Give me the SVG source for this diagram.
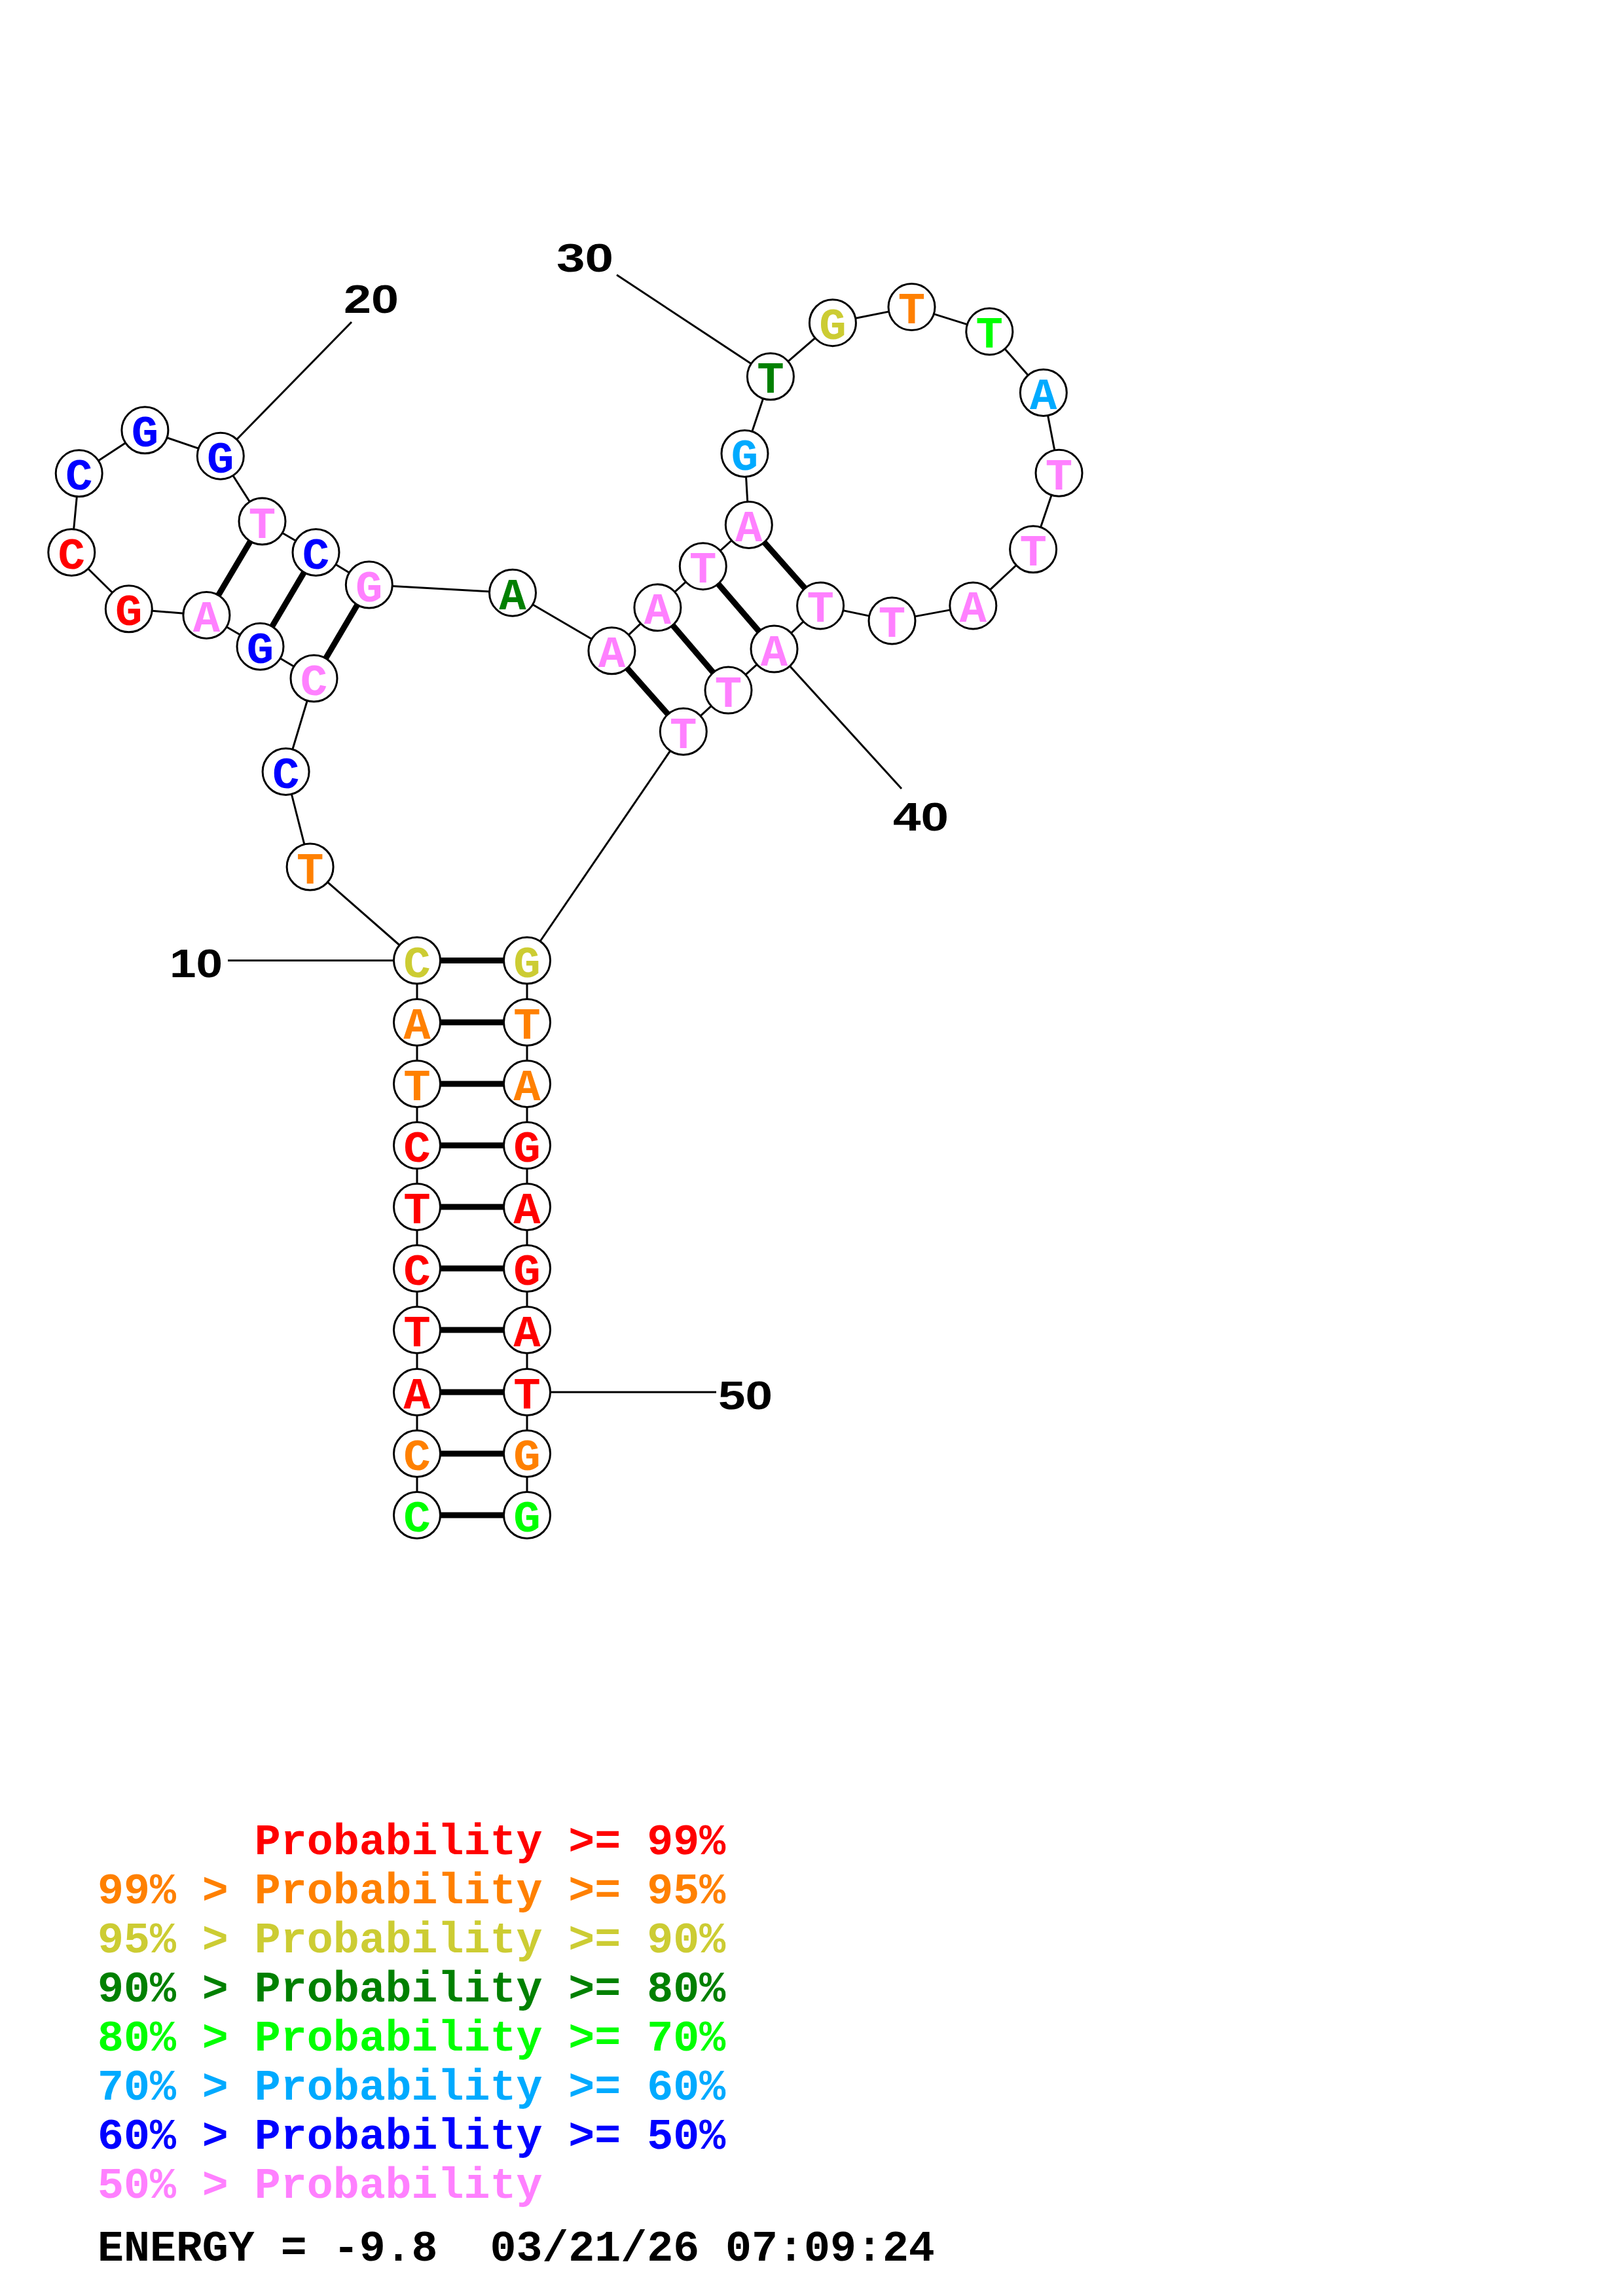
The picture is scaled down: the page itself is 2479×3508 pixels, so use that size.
<svg xmlns="http://www.w3.org/2000/svg" width="2479" height="3508" viewBox="0 0 2479 3508">
<style>
.bb{stroke:#000;stroke-width:3;fill:none}
.pr{stroke:#000;stroke-width:9;fill:none}
.ld{stroke:#000;stroke-width:3;fill:none}
.nd circle{fill:#fff;stroke:#000;stroke-width:3}
.nd text{font-family:"Liberation Mono","Courier New",monospace;font-weight:bold;font-size:69px;text-anchor:middle}
.num{font-family:"Liberation Sans",Arial,sans-serif;font-weight:bold;font-size:62px;fill:#000}
.lg{font-family:"Liberation Mono","Courier New",monospace;font-weight:bold;font-size:66.6px;white-space:pre}
.r{fill:#ff0000}.o{fill:#ff8000}.y{fill:#cccc33}.dg{fill:#008000}.g{fill:#00ff00}.lb{fill:#00aaff}.b{fill:#0000ff}.p{fill:#ff80ff}.k{fill:#000}
</style>
<rect x="0" y="0" width="2479" height="3508" fill="#fff"/>
<g id="connectors">
<g id="backbone">
<line class="bb" x1="637" y1="2315" x2="637" y2="1467.5"/>
<line class="bb" x1="637" y1="1467.5" x2="473.6" y2="1324.5"/>
<line class="bb" x1="473.6" y1="1324.5" x2="436.6" y2="1179"/>
<line class="bb" x1="436.6" y1="1179" x2="479.5" y2="1036.5"/>
<line class="bb" x1="479.5" y1="1036.5" x2="397.5" y2="987.7"/>
<line class="bb" x1="397.5" y1="987.7" x2="315.4" y2="940"/>
<line class="bb" x1="315.4" y1="940" x2="196.8" y2="930.3"/>
<line class="bb" x1="196.8" y1="930.3" x2="109.3" y2="844"/>
<line class="bb" x1="109.3" y1="844" x2="120.7" y2="723.3"/>
<line class="bb" x1="120.7" y1="723.3" x2="221.4" y2="657.3"/>
<line class="bb" x1="221.4" y1="657.3" x2="336.8" y2="696.7"/>
<line class="bb" x1="336.8" y1="696.7" x2="400.5" y2="796.5"/>
<line class="bb" x1="400.5" y1="796.5" x2="482.5" y2="844"/>
<line class="bb" x1="482.5" y1="844" x2="563.8" y2="893.5"/>
<line class="bb" x1="563.8" y1="893.5" x2="783" y2="905.7"/>
<line class="bb" x1="783" y1="905.7" x2="934.4" y2="994.3"/>
<line class="bb" x1="934.4" y1="994.3" x2="1004.4" y2="928.3"/>
<line class="bb" x1="1004.4" y1="928.3" x2="1073.8" y2="865.2"/>
<line class="bb" x1="1073.8" y1="865.2" x2="1143.8" y2="802"/>
<line class="bb" x1="1143.8" y1="802" x2="1137.5" y2="693"/>
<line class="bb" x1="1137.5" y1="693" x2="1176.9" y2="575.3"/>
<line class="bb" x1="1176.9" y1="575.3" x2="1271.9" y2="493.2"/>
<line class="bb" x1="1271.9" y1="493.2" x2="1392.5" y2="469.1"/>
<line class="bb" x1="1392.5" y1="469.1" x2="1511.3" y2="506.4"/>
<line class="bb" x1="1511.3" y1="506.4" x2="1593.8" y2="600"/>
<line class="bb" x1="1593.8" y1="600" x2="1617.5" y2="722.8"/>
<line class="bb" x1="1617.5" y1="722.8" x2="1578.1" y2="839.3"/>
<line class="bb" x1="1578.1" y1="839.3" x2="1486.3" y2="925.4"/>
<line class="bb" x1="1486.3" y1="925.4" x2="1362.5" y2="948.4"/>
<line class="bb" x1="1362.5" y1="948.4" x2="1253.1" y2="925.4"/>
<line class="bb" x1="1253.1" y1="925.4" x2="1182.5" y2="991.5"/>
<line class="bb" x1="1182.5" y1="991.5" x2="1112.5" y2="1054.6"/>
<line class="bb" x1="1112.5" y1="1054.6" x2="1043.8" y2="1117.8"/>
<line class="bb" x1="1043.8" y1="1117.8" x2="805" y2="1467.5"/>
<line class="bb" x1="805" y1="1467.5" x2="805" y2="2315"/>
</g>
<g id="pairs">
<line class="pr" x1="637" y1="1467.5" x2="805" y2="1467.5"/>
<line class="pr" x1="637" y1="1562" x2="805" y2="1562"/>
<line class="pr" x1="637" y1="1656" x2="805" y2="1656"/>
<line class="pr" x1="637" y1="1750" x2="805" y2="1750"/>
<line class="pr" x1="637" y1="1844" x2="805" y2="1844"/>
<line class="pr" x1="637" y1="1938" x2="805" y2="1938"/>
<line class="pr" x1="637" y1="2032" x2="805" y2="2032"/>
<line class="pr" x1="637" y1="2127" x2="805" y2="2127"/>
<line class="pr" x1="637" y1="2221" x2="805" y2="2221"/>
<line class="pr" x1="637" y1="2315" x2="805" y2="2315"/>
<line class="pr" x1="479.5" y1="1036.5" x2="563.8" y2="893.5"/>
<line class="pr" x1="397.5" y1="987.7" x2="482.5" y2="844"/>
<line class="pr" x1="315.4" y1="940" x2="400.5" y2="796.5"/>
<line class="pr" x1="934.4" y1="994.3" x2="1043.8" y2="1117.8"/>
<line class="pr" x1="1004.4" y1="928.3" x2="1112.5" y2="1054.6"/>
<line class="pr" x1="1073.8" y1="865.2" x2="1182.5" y2="991.5"/>
<line class="pr" x1="1143.8" y1="802" x2="1253.1" y2="925.4"/>
</g>
<g id="leaders">
<line class="ld" x1="348" y1="1467.5" x2="637" y2="1467.5"/>
<line class="ld" x1="537" y1="492" x2="336.8" y2="696.7"/>
<line class="ld" x1="942" y1="420" x2="1176.9" y2="575.3"/>
<line class="ld" x1="1377" y1="1205" x2="1182.5" y2="991.5"/>
<line class="ld" x1="1094" y1="2127" x2="805" y2="2127"/>
</g>
</g>
<g id="nodes">
<g id="n1" class="nd"><circle cx="637" cy="2315" r="35.5"/><text x="637" y="2340" class="g">C</text></g>
<g id="n2" class="nd"><circle cx="637" cy="2221" r="35.5"/><text x="637" y="2246" class="o">C</text></g>
<g id="n3" class="nd"><circle cx="637" cy="2127" r="35.5"/><text x="637" y="2152" class="r">A</text></g>
<g id="n4" class="nd"><circle cx="637" cy="2032" r="35.5"/><text x="637" y="2057" class="r">T</text></g>
<g id="n5" class="nd"><circle cx="637" cy="1938" r="35.5"/><text x="637" y="1963" class="r">C</text></g>
<g id="n6" class="nd"><circle cx="637" cy="1844" r="35.5"/><text x="637" y="1869" class="r">T</text></g>
<g id="n7" class="nd"><circle cx="637" cy="1750" r="35.5"/><text x="637" y="1775" class="r">C</text></g>
<g id="n8" class="nd"><circle cx="637" cy="1656" r="35.5"/><text x="637" y="1681" class="o">T</text></g>
<g id="n9" class="nd"><circle cx="637" cy="1562" r="35.5"/><text x="637" y="1587" class="o">A</text></g>
<g id="n10" class="nd"><circle cx="637" cy="1467.5" r="35.5"/><text x="637" y="1492.5" class="y">C</text></g>
<g id="n11" class="nd"><circle cx="473.6" cy="1324.5" r="35.5"/><text x="473.6" y="1349.5" class="o">T</text></g>
<g id="n12" class="nd"><circle cx="436.6" cy="1179" r="35.5"/><text x="436.6" y="1204" class="b">C</text></g>
<g id="n13" class="nd"><circle cx="479.5" cy="1036.5" r="35.5"/><text x="479.5" y="1061.5" class="p">C</text></g>
<g id="n14" class="nd"><circle cx="397.5" cy="987.7" r="35.5"/><text x="397.5" y="1012.7" class="b">G</text></g>
<g id="n15" class="nd"><circle cx="315.4" cy="940" r="35.5"/><text x="315.4" y="965" class="p">A</text></g>
<g id="n16" class="nd"><circle cx="196.8" cy="930.3" r="35.5"/><text x="196.8" y="955.3" class="r">G</text></g>
<g id="n17" class="nd"><circle cx="109.3" cy="844" r="35.5"/><text x="109.3" y="869" class="r">C</text></g>
<g id="n18" class="nd"><circle cx="120.7" cy="723.3" r="35.5"/><text x="120.7" y="748.3" class="b">C</text></g>
<g id="n19" class="nd"><circle cx="221.4" cy="657.3" r="35.5"/><text x="221.4" y="682.3" class="b">G</text></g>
<g id="n20" class="nd"><circle cx="336.8" cy="696.7" r="35.5"/><text x="336.8" y="721.7" class="b">G</text></g>
<g id="n21" class="nd"><circle cx="400.5" cy="796.5" r="35.5"/><text x="400.5" y="821.5" class="p">T</text></g>
<g id="n22" class="nd"><circle cx="482.5" cy="844" r="35.5"/><text x="482.5" y="869" class="b">C</text></g>
<g id="n23" class="nd"><circle cx="563.8" cy="893.5" r="35.5"/><text x="563.8" y="918.5" class="p">G</text></g>
<g id="n24" class="nd"><circle cx="783" cy="905.7" r="35.5"/><text x="783" y="930.7" class="dg">A</text></g>
<g id="n25" class="nd"><circle cx="934.4" cy="994.3" r="35.5"/><text x="934.4" y="1019.3" class="p">A</text></g>
<g id="n26" class="nd"><circle cx="1004.4" cy="928.3" r="35.5"/><text x="1004.4" y="953.3" class="p">A</text></g>
<g id="n27" class="nd"><circle cx="1073.8" cy="865.2" r="35.5"/><text x="1073.8" y="890.2" class="p">T</text></g>
<g id="n28" class="nd"><circle cx="1143.8" cy="802" r="35.5"/><text x="1143.8" y="827" class="p">A</text></g>
<g id="n29" class="nd"><circle cx="1137.5" cy="693" r="35.5"/><text x="1137.5" y="718" class="lb">G</text></g>
<g id="n30" class="nd"><circle cx="1176.9" cy="575.3" r="35.5"/><text x="1176.9" y="600.3" class="dg">T</text></g>
<g id="n31" class="nd"><circle cx="1271.9" cy="493.2" r="35.5"/><text x="1271.9" y="518.2" class="y">G</text></g>
<g id="n32" class="nd"><circle cx="1392.5" cy="469.1" r="35.5"/><text x="1392.5" y="494.1" class="o">T</text></g>
<g id="n33" class="nd"><circle cx="1511.3" cy="506.4" r="35.5"/><text x="1511.3" y="531.4" class="g">T</text></g>
<g id="n34" class="nd"><circle cx="1593.8" cy="600" r="35.5"/><text x="1593.8" y="625" class="lb">A</text></g>
<g id="n35" class="nd"><circle cx="1617.5" cy="722.8" r="35.5"/><text x="1617.5" y="747.8" class="p">T</text></g>
<g id="n36" class="nd"><circle cx="1578.1" cy="839.3" r="35.5"/><text x="1578.1" y="864.3" class="p">T</text></g>
<g id="n37" class="nd"><circle cx="1486.3" cy="925.4" r="35.5"/><text x="1486.3" y="950.4" class="p">A</text></g>
<g id="n38" class="nd"><circle cx="1362.5" cy="948.4" r="35.5"/><text x="1362.5" y="973.4" class="p">T</text></g>
<g id="n39" class="nd"><circle cx="1253.1" cy="925.4" r="35.5"/><text x="1253.1" y="950.4" class="p">T</text></g>
<g id="n40" class="nd"><circle cx="1182.5" cy="991.5" r="35.5"/><text x="1182.5" y="1016.5" class="p">A</text></g>
<g id="n41" class="nd"><circle cx="1112.5" cy="1054.6" r="35.5"/><text x="1112.5" y="1079.6" class="p">T</text></g>
<g id="n42" class="nd"><circle cx="1043.8" cy="1117.8" r="35.5"/><text x="1043.8" y="1142.8" class="p">T</text></g>
<g id="n43" class="nd"><circle cx="805" cy="1467.5" r="35.5"/><text x="805" y="1492.5" class="y">G</text></g>
<g id="n44" class="nd"><circle cx="805" cy="1562" r="35.5"/><text x="805" y="1587" class="o">T</text></g>
<g id="n45" class="nd"><circle cx="805" cy="1656" r="35.5"/><text x="805" y="1681" class="o">A</text></g>
<g id="n46" class="nd"><circle cx="805" cy="1750" r="35.5"/><text x="805" y="1775" class="r">G</text></g>
<g id="n47" class="nd"><circle cx="805" cy="1844" r="35.5"/><text x="805" y="1869" class="r">A</text></g>
<g id="n48" class="nd"><circle cx="805" cy="1938" r="35.5"/><text x="805" y="1963" class="r">G</text></g>
<g id="n49" class="nd"><circle cx="805" cy="2032" r="35.5"/><text x="805" y="2057" class="r">A</text></g>
<g id="n50" class="nd"><circle cx="805" cy="2127" r="35.5"/><text x="805" y="2152" class="r">T</text></g>
<g id="n51" class="nd"><circle cx="805" cy="2221" r="35.5"/><text x="805" y="2246" class="o">G</text></g>
<g id="n52" class="nd"><circle cx="805" cy="2315" r="35.5"/><text x="805" y="2340" class="g">G</text></g>
</g>
<g id="numbers">
<text class="num" x="259" y="1492.5" textLength="81" lengthAdjust="spacingAndGlyphs">10</text>
<text class="num" x="525" y="478" textLength="84" lengthAdjust="spacingAndGlyphs">20</text>
<text class="num" x="850" y="414.5" textLength="87" lengthAdjust="spacingAndGlyphs">30</text>
<text class="num" x="1364" y="1269" textLength="85" lengthAdjust="spacingAndGlyphs">40</text>
<text class="num" x="1097" y="2152.5" textLength="83" lengthAdjust="spacingAndGlyphs">50</text>
</g>
<g id="legend">
<text class="lg r" x="388.8" y="2833">Probability &gt;= 99%</text>
<text class="lg o" x="149" y="2908">99% &gt; Probability &gt;= 95%</text>
<text class="lg y" x="149" y="2983">95% &gt; Probability &gt;= 90%</text>
<text class="lg dg" x="149" y="3058">90% &gt; Probability &gt;= 80%</text>
<text class="lg g" x="149" y="3133">80% &gt; Probability &gt;= 70%</text>
<text class="lg lb" x="149" y="3208">70% &gt; Probability &gt;= 60%</text>
<text class="lg b" x="149" y="3283">60% &gt; Probability &gt;= 50%</text>
<text class="lg p" x="149" y="3358">50% &gt; Probability</text>
<text class="lg k" x="149" y="3454" xml:space="preserve">ENERGY = -9.8  03/21/26 07:09:24</text>
</g>
</svg>
